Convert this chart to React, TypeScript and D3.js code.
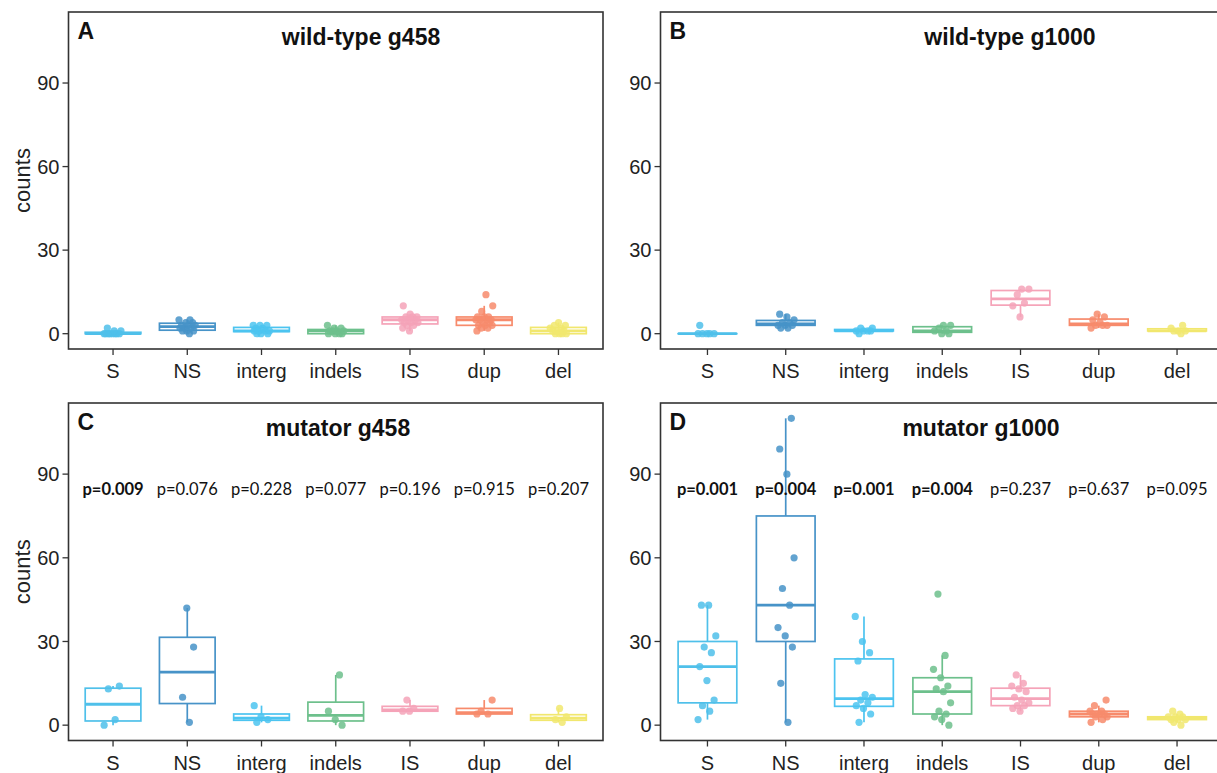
import * as d3 from "d3";

const categories = ["S", "NS", "interg", "indels", "IS", "dup", "del"];
const yTicks = [0, 30, 60, 90];

// counts per line, one inner array per category (same order as categories)
const wildTypeG458 = [
  [0, 0, 0, 0, 0, 0, 0, 0, 1, 1, 2],
  [0, 1, 1, 1, 2, 2, 2, 3, 3, 3, 4, 4, 5, 5],
  [0, 0, 0, 1, 1, 1, 1, 2, 2, 3, 3, 3],
  [0, 0, 0, 0, 1, 1, 1, 1, 2, 2, 3],
  [1, 2, 3, 3, 4, 4, 4, 5, 5, 5, 6, 6, 6, 7, 10],
  [1, 2, 2, 3, 3, 3, 4, 4, 5, 5, 5, 5, 6, 6, 6, 8, 10, 14],
  [0, 0, 0, 0, 1, 1, 1, 2, 2, 3, 3, 4],
];
const wildTypeG1000 = [
  [0, 0, 0, 0, 0, 3],
  [2, 2, 3, 3, 3, 4, 4, 5, 6, 7],
  [0, 1, 1, 1, 1, 2, 2],
  [0, 0, 1, 1, 2, 3, 3],
  [6, 10, 11, 14, 16, 16],
  [2, 3, 3, 3, 4, 5, 6, 7],
  [0, 1, 1, 1, 2, 3],
];
const mutatorG458 = [
  [0, 2, 13, 14],
  [1, 10, 28, 42],
  [1, 2, 3, 7],
  [0, 2, 5, 18],
  [5, 5, 6, 9],
  [4, 4, 5, 9],
  [1, 2, 3, 6],
];
const mutatorG1000 = [
  [2, 5, 7, 9, 16, 21, 26, 28, 32, 43, 43],
  [1, 15, 28, 32, 35, 43, 49, 60, 90, 99, 110],
  [1, 4, 6, 7, 8, 9, 10, 11, 23, 26, 30, 39],
  [0, 2, 3, 4, 5, 8, 12, 13, 14, 17, 20, 25, 47],
  [5, 6, 7, 7, 8, 9, 10, 12, 13, 14, 15, 18],
  [1, 2, 3, 3, 4, 4, 4, 4, 5, 5, 7, 9],
  [0, 1, 2, 2, 2, 3, 3, 3, 4, 5],
];
const pMutatorG458 = [0.009, 0.076, 0.228, 0.077, 0.196, 0.915, 0.207];
const pMutatorG1000 = [0.001, 0.004, 0.001, 0.004, 0.237, 0.637, 0.095];

const colors = ["#4FC0EA", "#4793C8", "#4CC4F0", "#6DC08C", "#F5A3B8", "#F78B6C", "#F1E76E"];

const W = 1217;
const H = 773;
const FONT = "'Liberation Sans', Arial, sans-serif";

// overall y range shared by all panels, ggplot style 5% expansion
const allMax = d3.max([wildTypeG458, wildTypeG1000, mutatorG458, mutatorG1000].flat(2)) ?? 0;
const yPad = allMax * 0.05;

const panels = [
  { letter: "A", title: "wild-type g458", data: wildTypeG458, p: null, x0: 68.5, x1: 603, y0: 12, y1: 349, titleX: 361, yLabel: true },
  { letter: "B", title: "wild-type g1000", data: wildTypeG1000, p: null, x0: 660.5, x1: 1224, y0: 12, y1: 349, titleX: 1010, yLabel: false },
  { letter: "C", title: "mutator g458", data: mutatorG458, p: pMutatorG458, x0: 68.5, x1: 603, y0: 403, y1: 740.5, titleX: 338, yLabel: true },
  { letter: "D", title: "mutator g1000", data: mutatorG1000, p: pMutatorG1000, x0: 660.5, x1: 1224, y0: 403, y1: 740.5, titleX: 981, yLabel: false },
];

function boxStats(values: number[]) {
  const s = [...values].sort(d3.ascending);
  const q1 = d3.quantile(s, 0.25)!;
  const med = d3.quantile(s, 0.5)!;
  const q3 = d3.quantile(s, 0.75)!;
  const iqr = q3 - q1;
  const lo = d3.min(s.filter((v) => v >= q1 - 1.5 * iqr))!;
  const hi = d3.max(s.filter((v) => v <= q3 + 1.5 * iqr))!;
  return { q1, med, q3, lo, hi };
}

// fixed horizontal spread for the points (no randomness)
const jitter = (i: number) => ((i * 0.6180339887) % 1) - 0.5;

function Panel({ cfg }: { cfg: (typeof panels)[number] }) {
  const x = d3.scalePoint<string>().domain(categories).range([cfg.x0, cfg.x1]).padding(0.6);
  const y = d3.scaleLinear().domain([-yPad, allMax + yPad]).range([cfg.y1, cfg.y0]);
  const step = x.step();
  const bw = step * 0.75;

  return (
    <g>
      {/* boxes */}
      {cfg.data.map((vals, ci) => {
        const st = boxStats(vals);
        const cx = x(categories[ci])!;
        const c = colors[ci];
        return (
          <g key={"b" + ci} stroke={c} fill="none">
            <line x1={cx} x2={cx} y1={y(st.q3)} y2={y(st.hi)} strokeWidth={1.7} />
            <line x1={cx} x2={cx} y1={y(st.q1)} y2={y(st.lo)} strokeWidth={1.7} />
            <rect x={cx - bw / 2} width={bw} y={y(st.q3)} height={Math.max(0.01, y(st.q1) - y(st.q3))} fill="white" strokeWidth={1.7} />
            <line x1={cx - bw / 2} x2={cx + bw / 2} y1={y(st.med)} y2={y(st.med)} strokeWidth={2.8} />
          </g>
        );
      })}
      {/* points */}
      {cfg.data.map((vals, ci) =>
        vals.map((v, i) => (
          <circle
            key={"p" + ci + "-" + i}
            cx={x(categories[ci])! + jitter(i + ci) * step * 0.24}
            cy={y(v)}
            r={3.6}
            fill={colors[ci]}
            fillOpacity={0.85}
          />
        ))
      )}
      {/* frame */}
      <rect x={cfg.x0} y={cfg.y0} width={cfg.x1 - cfg.x0} height={cfg.y1 - cfg.y0} fill="none" stroke="#333" strokeWidth={1.6} />
      {/* y axis */}
      {yTicks.map((t) => (
        <g key={"y" + t}>
          <line x1={cfg.x0 - 6} x2={cfg.x0} y1={y(t)} y2={y(t)} stroke="#333" strokeWidth={1.3} />
          <text x={cfg.x0 - 9} y={y(t)} dy="0.36em" textAnchor="end" fontFamily={FONT} fontSize={20} fill="#222">
            {t}
          </text>
        </g>
      ))}
      {/* x axis */}
      {categories.map((c) => (
        <g key={"x" + c}>
          <line x1={x(c)} x2={x(c)} y1={cfg.y1} y2={cfg.y1 + 6} stroke="#333" strokeWidth={1.3} />
          <text x={x(c)} y={cfg.y1 + 29} textAnchor="middle" fontFamily={FONT} fontSize={20} fill="#222">
            {c}
          </text>
        </g>
      ))}
      {cfg.yLabel && (
        <text
          transform={`translate(30,${(cfg.y0 + cfg.y1) / 2}) rotate(-90)`}
          textAnchor="middle"
          fontFamily={FONT}
          fontSize={22}
          fill="#222"
        >
          counts
        </text>
      )}
      <text x={cfg.x0 + 9} y={cfg.y0 + 27} fontFamily={FONT} fontSize={23} fontWeight="bold" fill="#111">
        {cfg.letter}
      </text>
      <text x={cfg.titleX} y={cfg.y0 + 33} textAnchor="middle" fontFamily={FONT} fontSize={23} fontWeight="bold" fill="#111">
        {cfg.title}
      </text>
      {cfg.p &&
        cfg.p.map((p, ci) => (
          <text
            key={"pv" + ci}
            x={x(categories[ci])}
            y={y(82.5)}
            textAnchor="middle"
            fontFamily="Lato, 'Open Sans', sans-serif"
            fontSize={16.5}
            fontWeight={p < 0.05 ? "bold" : "normal"}
            fill="#111"
          >
            {"p=" + p.toFixed(3)}
          </text>
        ))}
    </g>
  );
}

export default function App() {
  return (
    <svg width={W} height={H} style={{ position: "absolute", left: 0, top: 0, background: "white" }}>
      <rect width={W} height={H} fill="white" />
      {panels.map((p) => (
        <Panel key={p.letter} cfg={p} />
      ))}
    </svg>
  );
}
